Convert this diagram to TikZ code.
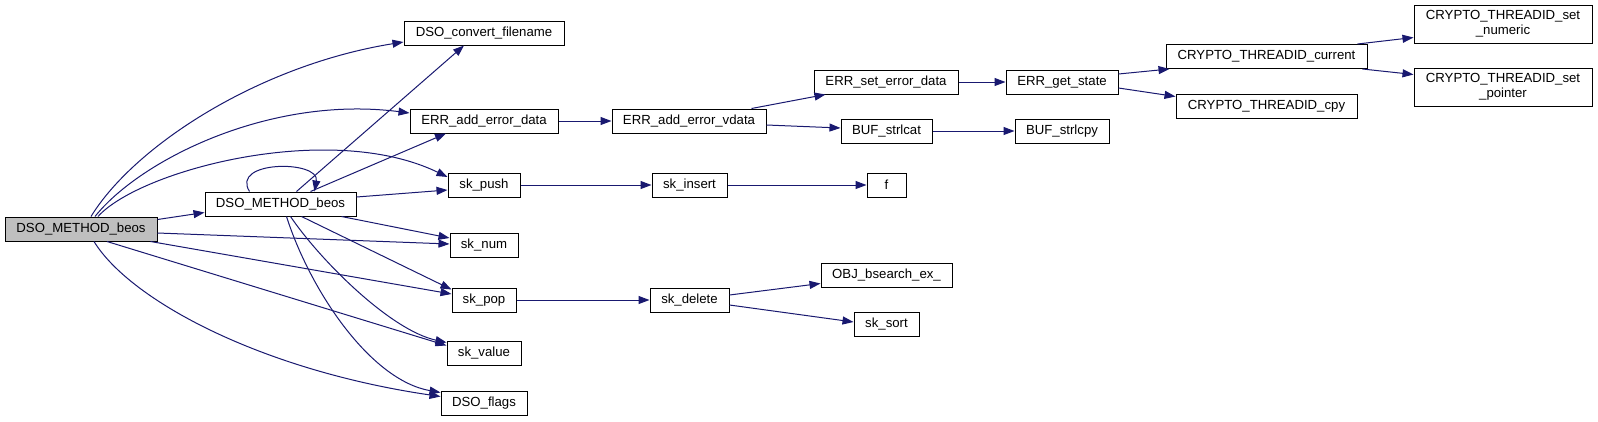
\documentclass[tikz,border=0pt]{standalone}
\usepackage{fontspec}
\setmainfont{Liberation Sans}
\usetikzlibrary{arrows.meta,calc}
\definecolor{edgeblue}{RGB}{25,25,112}
\definecolor{mainfill}{RGB}{191,191,191}
\tikzset{
  fn/.style={draw=black,line width=1pt,rectangle,inner sep=0pt,minimum height=24pt,
    font=\fontsize{13.2}{15}\selectfont,align=center,text=black,fill=white},
  call/.style={draw=edgeblue,line width=1pt,-{Triangle[length=11pt,width=8pt]}},
}
\begin{document}
\begin{tikzpicture}[x=1pt,y=-1pt]
\useasboundingbox (0,0) rectangle (1598,421);
\fill[white] (0,0) rectangle (1598,421);
% nodes
\node[fn,fill=mainfill,minimum width=152pt] (main) at (81,229) {DSO\_METHOD\_beos};
\node[fn,minimum width=151pt] (dso2) at (280.5,204) {DSO\_METHOD\_beos};
\node[fn,minimum width=160pt] (conv) at (484,33) {DSO\_convert\_filename};
\node[fn,minimum width=148pt] (erradd) at (484,121) {ERR\_add\_error\_data};
\node[fn,minimum width=72pt] (push) at (484,185) {sk\_push};
\node[fn,minimum width=68pt] (num) at (484,245) {sk\_num};
\node[fn,minimum width=64pt] (pop) at (484,300) {sk\_pop};
\node[fn,minimum width=74pt] (value) at (484,353) {sk\_value};
\node[fn,minimum width=86pt] (flags) at (484,403) {DSO\_flags};
\node[fn,minimum width=154pt] (vdata) at (689,121) {ERR\_add\_error\_vdata};
\node[fn,minimum width=75pt] (insert) at (689.5,185) {sk\_insert};
\node[fn,minimum width=79pt] (delete) at (689.5,300) {sk\_delete};
\node[fn,minimum width=144pt] (seterr) at (886,82) {ERR\_set\_error\_data};
\node[fn,minimum width=91pt] (strlcat) at (886.5,131) {BUF\_strlcat};
\node[fn,minimum width=39pt] (f) at (886.5,185) {f};
\node[fn,minimum width=131pt] (bsearch) at (886.5,275) {OBJ\_bsearch\_ex\_};
\node[fn,minimum width=65pt] (sort) at (886.5,324) {sk\_sort};
\node[fn,minimum width=112pt] (getstate) at (1062,82) {ERR\_get\_state};
\node[fn,minimum width=94pt] (strlcpy) at (1062,131) {BUF\_strlcpy};
\node[fn,minimum width=201pt] (current) at (1266.5,56.5) {CRYPTO\_THREADID\_current};
\node[fn,minimum width=181pt] (cpy) at (1266.5,106) {CRYPTO\_THREADID\_cpy};
\node[fn,minimum width=178pt,minimum height=38pt] (numeric) at (1503,24) {CRYPTO\_THREADID\_set\\\_numeric};
\node[fn,minimum width=178pt,minimum height=38pt] (pointer) at (1503,87) {CRYPTO\_THREADID\_set\\\_pointer};
% edges from main
\draw[call] ($(main.north)+(10,0)$) .. controls (135,145) and (260,65) .. ($(conv.west)+(0,9)$);
\draw[call] ($(main.north)+(14,0)$) .. controls (140,160) and (270,95) .. ($(erradd.west)+(0,-8)$);
\draw[call] ($(main.north)+(17,0)$) .. controls (140,170) and (330,120) .. ($(push.west)+(0,-8)$);
\draw[call] ($(main.north east)+(0,3)$) -- ($(dso2.south west)+(0,-4)$);
\draw[call] ($(main.east)+(0,4)$) -- ($(num.west)+(0,-1)$);
\draw[call] ($(main.south east)+(-7,0)$) -- ($(pop.west)+(0,-6)$);
\draw[call] ($(main.south)+(26,0)$) -- ($(value.north west)+(0,5)$);
\draw[call] ($(main.south)+(13,0)$) .. controls (130,300) and (260,370) .. ($(flags.north west)+(0,6)$);
% edges from dso2
\draw[call] ($(dso2.north west)+(45,0)$) .. controls (230,160) and (320,160) .. ($(dso2.north west)+(110,0)$);
\draw[call] ($(dso2.north)+(16,0)$) -- ($(conv.south)+(-20,0)$);
\draw[call] ($(dso2.north)+(30,0)$) -- ($(erradd.south)+(-38,0)$);
\draw[call] ($(dso2.east)+(0,-7)$) -- ($(push.west)+(0,5)$);
\draw[call] ($(dso2.south east)+(-15,0)$) -- ($(num.west)+(0,-7)$);
\draw[call] ($(dso2.south)+(21,0)$) -- ($(pop.north west)+(0,2)$);
\draw[call] ($(dso2.south)+(10,0)$) .. controls (320,260) and (390,330) .. ($(value.north west)+(0,2)$);
\draw[call] ($(dso2.south)+(6,0)$) .. controls (310,290) and (370,380) .. ($(flags.north west)+(0,2)$);
% right part
\draw[call] (erradd.east) -- (vdata.west);
\draw[call] ($(vdata.north east)+(-15,0)$) -- ($(seterr.south west)+(12,0)$);
\draw[call] ($(vdata.east)+(0,4)$) -- ($(strlcat.west)+(0,-3)$);
\draw[call] (seterr.east) -- (getstate.west);
\draw[call] (strlcat.east) -- (strlcpy.west);
\draw[call] ($(getstate.east)+(0,-8)$) -- ($(current.south west)+(4,0)$);
\draw[call] ($(getstate.east)+(0,6)$) -- ($(cpy.north west)+(0,3)$);
\draw[call] ($(current.north east)+(-10,0)$) -- ($(numeric.south west)+(0,-6)$);
\draw[call] ($(current.south east)+(-5,0)$) -- ($(pointer.north west)+(0,7)$);
\draw[call] (push.east) -- (insert.west);
\draw[call] (insert.east) -- (f.west);
\draw[call] (pop.east) -- (delete.west);
\draw[call] ($(delete.east)+(0,-5)$) -- ($(bsearch.south west)+(0,-4)$);
\draw[call] ($(delete.east)+(0,5)$) -- ($(sort.west)+(0,-2)$);
\end{tikzpicture}
\end{document}
